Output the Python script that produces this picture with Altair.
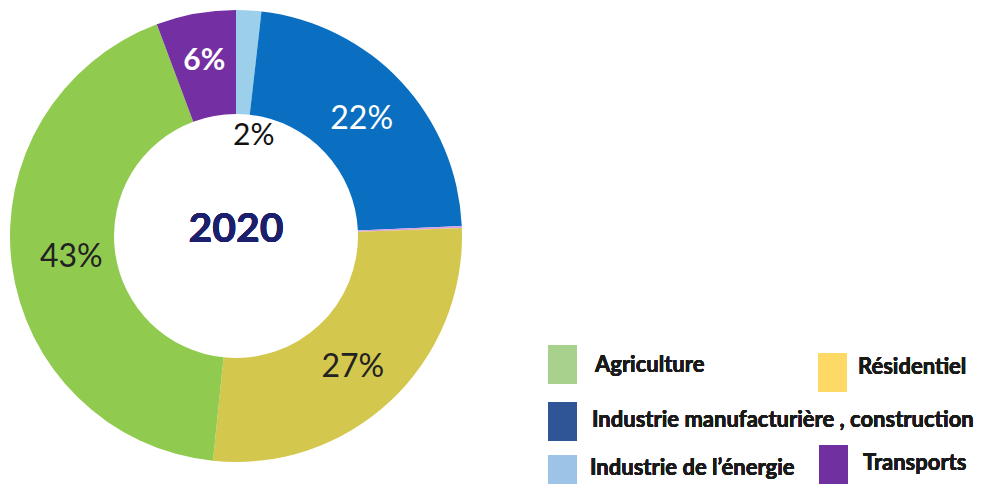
import altair as alt
import pandas as pd

# Ring data (clockwise from 12 o'clock)
categories = ["Industrie de l'énergie", "Industrie manufacturière , construction", "Autres",
              "Résidentiel", "Agriculture", "Transports"]
values = [1.8, 22.5, 0.15, 27.2, 42.7, 5.7]
labels = ["2%", "22%", "", "27%", "43%", "6%"]
ring_colors = ["#9ccfea", "#0a6fc0", "#d9a0e6", "#d3c74d", "#90cb50", "#7430a3"]

# Legend
legend_names = ["Agriculture", "Résidentiel", "Industrie manufacturière , construction",
                "Industrie de l’énergie", "Transports"]
legend_colors = ["#a9d18e", "#ffd966", "#2f5597", "#9dc3e6", "#7030a0"]

center_title = "2020"

df = pd.DataFrame({"cat": categories, "value": values, "label": labels,
                   "idx": list(range(len(categories)))})

CX, CY = 228, 228
FONT = "Lato"

base = alt.Chart(df).encode(
    theta=alt.Theta("value:Q", stack=True),
    order=alt.Order("idx:Q"),
)

ring = base.mark_arc(innerRadius=122, outerRadius=226, stroke=None).encode(
    color=alt.Color("cat:N", scale=alt.Scale(domain=categories, range=ring_colors), legend=None),
    x=alt.value(CX), y=alt.value(CY),
)


def label_layer(i, radius, color, size, weight="normal", dx=0, dy=0):
    return base.transform_calculate(
        t=f"datum.idx == {i} ? datum.label : ''"
    ).mark_text(radius=radius, fontSize=size, font=FONT, fontWeight=weight,
                color=color, dx=dx, dy=dy, align="center", baseline="middle").encode(
        text="t:N", x=alt.value(CX), y=alt.value(CY))


labels_layers = [
    label_layer(0, 102, "#111111", 30, dx=12, dy=2),
    label_layer(1, 172, "#ffffff", 32),
    label_layer(3, 174, "#222222", 32, dx=-2, dy=4),
    label_layer(4, 166, "#222222", 32),
    label_layer(5, 178, "#ffffff", 30, weight="bold"),
]

title = alt.Chart(df).mark_text(font=FONT, fontSize=41, fontWeight="bold", color="#1c1f6b",
                                align="center", baseline="middle").encode(
    text=alt.value(center_title), x=alt.value(CX), y=alt.value(CY - 6))

# legend items: (swatch x, swatch y, text x, text y)
legend_pos = [
    (540, 337, 587, 357),
    (810, 345, 850, 359),
    (540, 394, 584, 412),
    (540, 447, 582, 460),
    (811, 437, 855, 455),
]
legend_layers = []
for name, col, (sx, sy, tx, ty) in zip(legend_names, legend_colors, legend_pos):
    legend_layers.append(alt.Chart(df).mark_rect(color=col).encode(
        x=alt.value(sx), x2=alt.value(sx + 29), y=alt.value(sy), y2=alt.value(sy + 39)))
    legend_layers.append(alt.Chart(df).mark_text(font=FONT, fontSize=22, fontWeight="bold",
                                                 color="#1a1a1a", align="left",
                                                 baseline="middle").encode(
        text=alt.value(name), x=alt.value(tx), y=alt.value(ty)))

chart = alt.layer(ring, *labels_layers, title, *legend_layers).properties(
    width=978, height=476, padding=0, autosize="none"
).configure_view(stroke=None)

chart.save("out.html", embed_options={"renderer": "svg", "actions": False})
